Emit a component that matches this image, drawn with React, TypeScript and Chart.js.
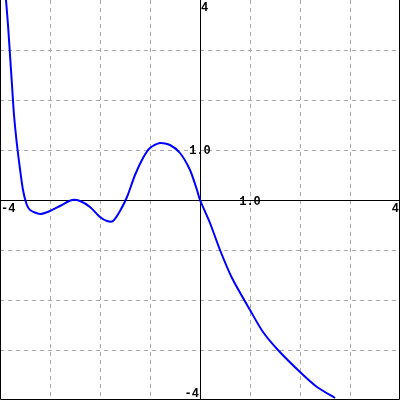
import React, { useEffect, useRef } from "react";
import { Chart, registerables } from "chart.js";

Chart.register(...registerables);

// Curve samples (x, y in data units)
const curveX = [
  -3.88, -3.84, -3.8, -3.76, -3.72, -3.66, -3.6, -3.54, -3.47, -3.4, -3.2, -3.0, -2.8,
  -2.56, -2.4, -2.2, -2.0, -1.86, -1.74, -1.6, -1.46, -1.3, -1.14, -1.0, -0.8,
  -0.6, -0.4, -0.2, -0.06, 0, 0.2, 0.4, 0.64, 1.0, 1.26, 1.56, 2.0, 2.34, 2.7,
];
const curveY = [
  4.0, 3.5, 2.9, 2.3, 1.7, 1.1, 0.62, 0.2, -0.08, -0.2, -0.28, -0.22, -0.12,
  0.0, -0.02, -0.14, -0.34, -0.42, -0.42, -0.22, 0.06, 0.5, 0.84, 1.04, 1.14,
  1.1, 0.94, 0.6, 0.2, 0.0, -0.46, -1.0, -1.56, -2.2, -2.64, -3.0, -3.44, -3.74, -3.96,
];

const axisMin = -4;
const axisMax = 4;
const gridValues = [-3, -2, -1, 1, 2, 3];
const xTickValues = [-4, 1, 4];
const xTickLabels = ["-4", "1.0", "4"];
const yTickValues = [-4, 1, 4];
const yTickLabels = ["-4", "1.0", "4"];

const overlayPlugin = {
  id: "overlay",
  beforeDatasetsDraw(chart: any) {
    const { ctx, scales, chartArea: a } = chart;
    const xs = scales.x;
    const ys = scales.y;
    ctx.save();
    ctx.strokeStyle = "#aaaaaa";
    ctx.lineWidth = 1;
    ctx.setLineDash([4, 4]);
    for (const v of gridValues) {
      const px = Math.round(xs.getPixelForValue(v)) + 0.5;
      ctx.beginPath();
      ctx.moveTo(px, a.top);
      ctx.lineTo(px, a.bottom);
      ctx.stroke();
      const py = Math.round(ys.getPixelForValue(v)) + 0.5;
      ctx.beginPath();
      ctx.moveTo(a.left, py);
      ctx.lineTo(a.right, py);
      ctx.stroke();
    }
    ctx.setLineDash([]);
    ctx.strokeStyle = "#000000";
    const x0 = Math.round(xs.getPixelForValue(0)) + 0.5;
    const y0 = Math.round(ys.getPixelForValue(0)) + 0.5;
    ctx.beginPath();
    ctx.moveTo(x0, a.top);
    ctx.lineTo(x0, a.bottom);
    ctx.moveTo(a.left, y0);
    ctx.lineTo(a.right, y0);
    ctx.stroke();
    ctx.beginPath();
    ctx.moveTo(a.left + 0.5, a.top);
    ctx.lineTo(a.left + 0.5, a.bottom - 0.5);
    ctx.lineTo(a.right - 0.5, a.bottom - 0.5);
    ctx.lineTo(a.right - 0.5, a.top);
    ctx.stroke();
    ctx.restore();
  },
  afterDatasetsDraw(chart: any) {
    const { ctx, scales, chartArea: a } = chart;
    const xs = scales.x;
    const ys = scales.y;
    const x0 = xs.getPixelForValue(0);
    const y0 = ys.getPixelForValue(0);
    ctx.save();
    ctx.fillStyle = "#000000";
    ctx.font = "bold 12px 'Liberation Mono', 'DejaVu Sans Mono', monospace";
    xTickValues.forEach((v, i) => {
      const px = xs.getPixelForValue(v);
      const t = xTickLabels[i];
      if (v === axisMin) {
        ctx.textAlign = "left";
        ctx.textBaseline = "top";
        ctx.fillText(t, a.left + 1, y0 + 3);
      } else if (v === axisMax) {
        ctx.textAlign = "right";
        ctx.textBaseline = "top";
        ctx.fillText(t, a.right - 1, y0 + 3);
      } else {
        ctx.textAlign = "center";
        ctx.textBaseline = "middle";
        ctx.fillText(t, px, y0 + 2);
      }
    });
    yTickValues.forEach((v, i) => {
      const py = ys.getPixelForValue(v);
      const t = yTickLabels[i];
      if (v === axisMax) {
        ctx.textAlign = "left";
        ctx.textBaseline = "top";
        ctx.fillText(t, x0 + 1, a.top + 2);
      } else if (v === axisMin) {
        ctx.textAlign = "right";
        ctx.textBaseline = "bottom";
        ctx.fillText(t, x0 - 1, a.bottom);
      } else {
        ctx.textAlign = "center";
        ctx.textBaseline = "middle";
        ctx.fillText(t, x0, py + 1);
      }
    });
    ctx.restore();
  },
};

export default function App() {
  const ref = useRef<HTMLCanvasElement | null>(null);
  useEffect(() => {
    document.body.style.margin = "0";
    if (!ref.current) return;
    const data = curveX.map((x, i) => ({ x, y: curveY[i] }));
    const chart = new Chart(ref.current, {
      type: "scatter",
      data: {
        datasets: [
          {
            data,
            showLine: true,
            borderColor: "#0000ff",
            borderWidth: 2,
            pointRadius: 0,
            tension: 0.25,
            fill: false,
          },
        ],
      },
      options: {
        animation: false,
        responsive: false,
        maintainAspectRatio: false,
        layout: { padding: 0 },
        plugins: { legend: { display: false }, tooltip: { enabled: false } },
        scales: {
          x: { type: "linear", min: axisMin, max: axisMax, display: false },
          y: { type: "linear", min: axisMin, max: axisMax, display: false },
        },
      },
      plugins: [overlayPlugin],
    });
    return () => chart.destroy();
  }, []);
  return (
    <div style={{ width: 400, height: 400, background: "#fff" }}>
      <canvas ref={ref} width={400} height={400} />
    </div>
  );
}
